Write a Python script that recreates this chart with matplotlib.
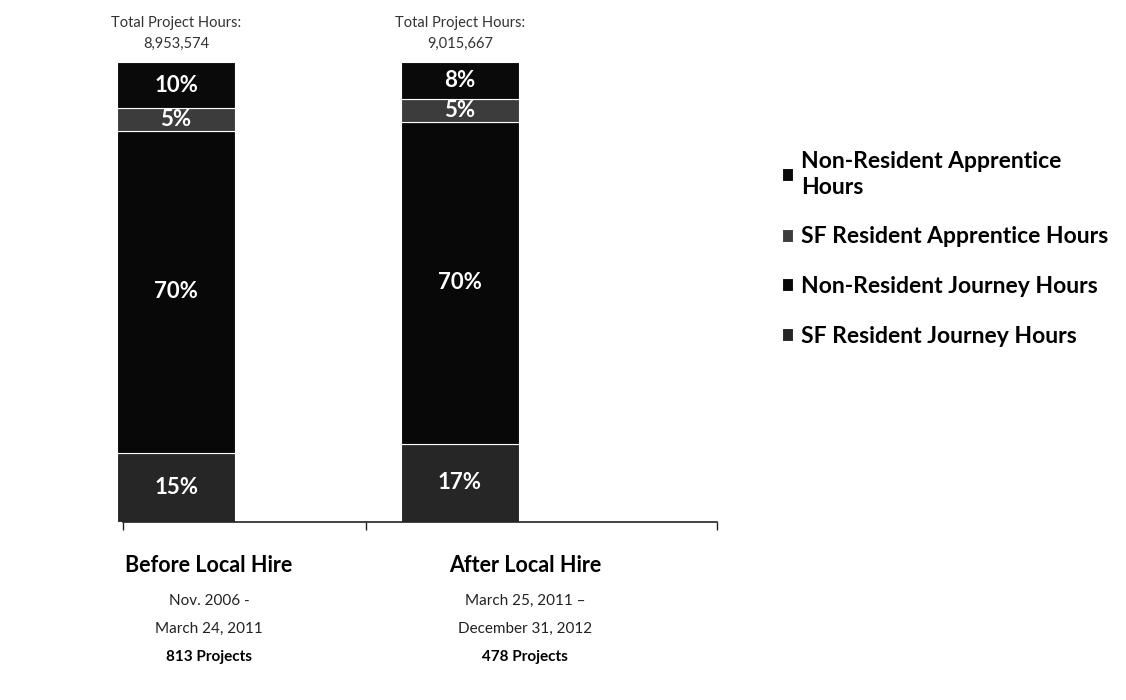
import matplotlib
matplotlib.use("Agg")
import matplotlib.pyplot as plt
import numpy as np

# data
periods = ["Before Local Hire", "After Local Hire"]
date_ranges = ["Nov. 2006 -\nMarch 24, 2011", "March 25, 2011 \u2013\nDecember 31, 2012"]
project_counts = ["813 Projects", "478 Projects"]
total_hours = ["8,953,574", "9,015,667"]

series_names = ["SF Resident Journey Hours", "Non-Resident Journey Hours",
                "SF Resident Apprentice Hours", "Non-Resident Apprentice Hours"]
sf_journey = [15, 17]
nonres_journey = [70, 70]
sf_apprentice = [5, 5]
nonres_apprentice = [10, 8]
series_values = [sf_journey, nonres_journey, sf_apprentice, nonres_apprentice]
series_colors = ["#262626", "#080808", "#3c3c3c", "#0a0a0a"]

plt.rcParams["font.family"] = ["Lato", "DejaVu Sans"]

fig = plt.figure(figsize=(11.26, 7.0), dpi=100)
ax = fig.add_axes([117 / 1126, 1 - 522 / 700, (717 - 117) / 1126, (522 - 62) / 700])

x = np.arange(len(periods))
bottom = np.zeros(len(periods))
bars = []
for name, vals, col in zip(series_names, series_values, series_colors):
    b = ax.bar(x, vals, 0.415, bottom=bottom, color=col, edgecolor="white",
               linewidth=0.8, label=name)
    ax.bar_label(b, labels=["%d%%" % v for v in vals], label_type="center",
                 color="white", fontsize=16, fontweight="bold")
    bottom += np.array(vals)
    bars.append(b)

ax.set_xlim(-0.208, 1.905)
ax.set_ylim(0, 100)
for s in ["top", "right", "left"]:
    ax.spines[s].set_visible(False)
ax.spines["bottom"].set_color("#222222")
ax.spines["bottom"].set_linewidth(1.2)
ax.spines["bottom"].set_bounds(-0.187, 1.905)
ax.set_yticks([])
ax.set_xticks([-0.187, 0.67, 1.905])
ax.set_xticklabels(["", "", ""])
ax.tick_params(axis="x", direction="out", length=6, width=1, color="#222222")

# totals above bars
for xi, tot in zip(x, total_hours):
    ax.text(xi, 100 + 8.5, "Total Project Hours:", ha="center", va="center",
            fontsize=10.5, color="#333333")
    ax.text(xi, 100 + 4, tot, ha="center", va="center", fontsize=10.5, color="#333333")

# category captions below axis
label_x = [209 / 1126, 525 / 1126]
for lx, per, dr, pc in zip(label_x, periods, date_ranges, project_counts):
    fig.text(lx, 1 - 566 / 700, per, ha="center", va="center", fontsize=15.5, fontweight="bold")
    lines = dr.split("\n")
    fig.text(lx, 1 - 601 / 700, lines[0], ha="center", va="center", fontsize=11, color="#222222")
    fig.text(lx, 1 - 629 / 700, lines[1], ha="center", va="center", fontsize=11, color="#222222")
    fig.text(lx, 1 - 657 / 700, pc, ha="center", va="center", fontsize=11, fontweight="bold")

# legend, top entry first
handles = bars[::-1]
labels = ["Non-Resident Apprentice\nHours", "SF Resident Apprentice Hours",
          "Non-Resident Journey Hours", "SF Resident Journey Hours"]
leg = fig.legend(handles, labels, loc="upper left", bbox_to_anchor=(761 / 1126, 1 - 130 / 700),
                 frameon=False, prop={"weight": "bold", "size": 16.5},
                 handlelength=0.5, handleheight=0.5, handletextpad=0.35, labelspacing=1.25)
leg.get_texts()[0].set_linespacing(1.3)

fig.savefig("out.png", dpi=100, facecolor="white")
